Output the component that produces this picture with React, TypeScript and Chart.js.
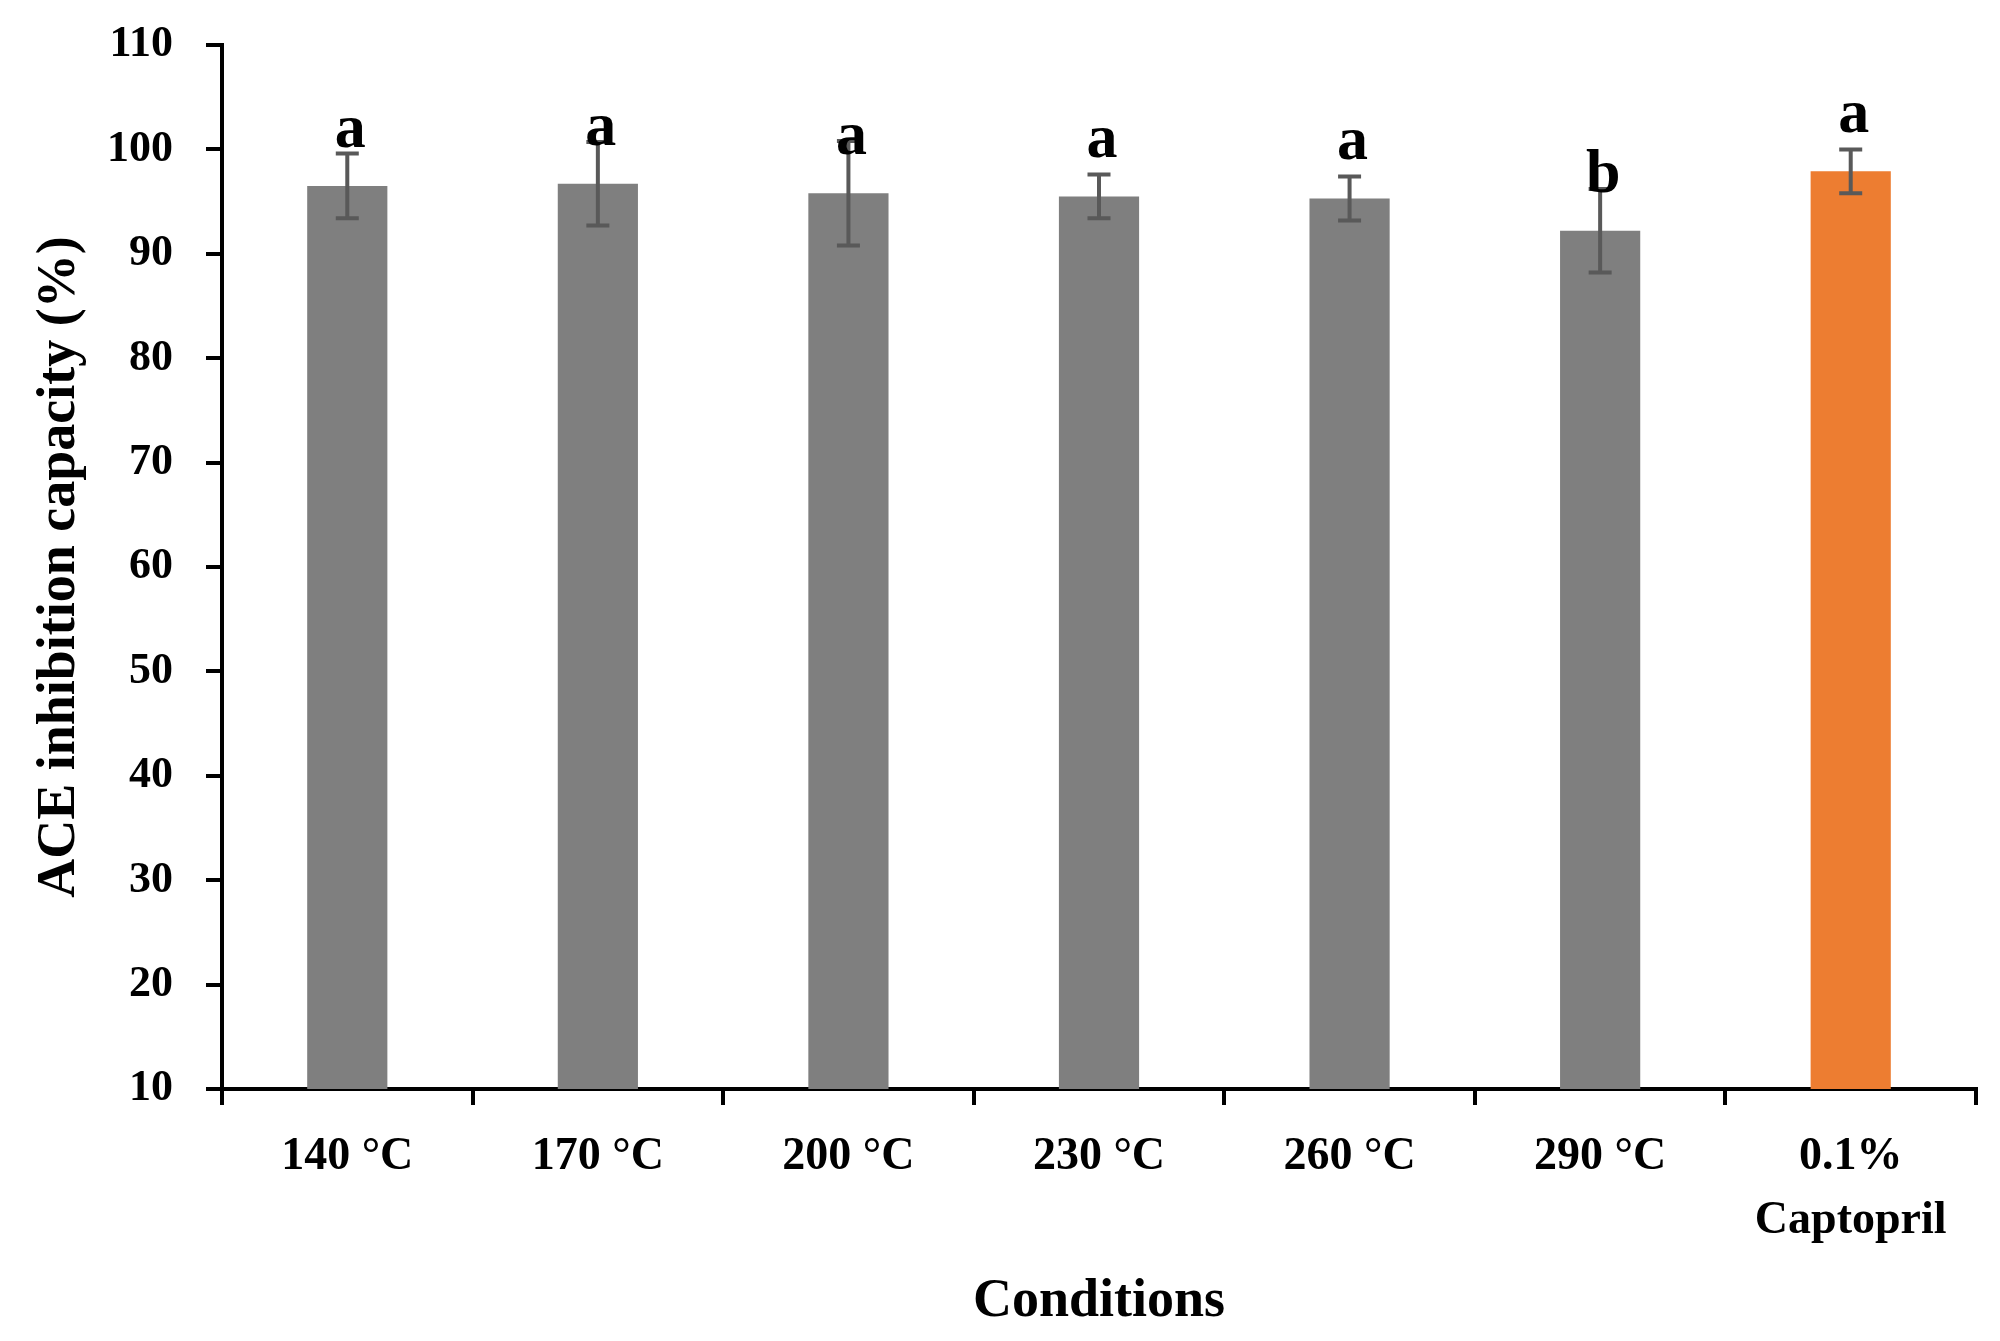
import React, { useEffect, useRef } from "react";
import { Chart, registerables } from "chart.js";

Chart.register(...registerables);

const categories: (string | string[])[] = [
  "140 °C",
  "170 °C",
  "200 °C",
  "230 °C",
  "260 °C",
  "290 °C",
  ["0.1%", "Captopril"],
];
const means = [96.5, 96.7, 95.8, 95.5, 95.3, 92.2, 97.9];
const errors = [3.1, 4.0, 5.0, 2.1, 2.1, 4.0, 2.1];
const letters = ["a", "a", "a", "a", "a", "b", "a"];
const barColors = ["#7f7f7f", "#7f7f7f", "#7f7f7f", "#7f7f7f", "#7f7f7f", "#7f7f7f", "#ed7d31"];
const yMin = 10;
const yMax = 110;
const yStep = 10;
const xTitle = "Conditions";
const yTitle = "ACE inhibition capacity (%)";

const FONT = "'Liberation Serif', 'Times New Roman', serif";

const overlayPlugin = {
  id: "overlay",
  afterDatasetsDraw(chart: any) {
    const ctx = chart.ctx;
    const meta = chart.getDatasetMeta(0);
    const yScale = chart.scales.y;
    ctx.save();
    // error bars
    ctx.strokeStyle = "#595959";
    ctx.lineWidth = 4;
    meta.data.forEach((bar: any, i: number) => {
      const x = bar.x;
      const yTop = yScale.getPixelForValue(means[i] + errors[i]);
      const yBot = yScale.getPixelForValue(means[i] - errors[i]);
      ctx.beginPath();
      ctx.moveTo(x, yTop);
      ctx.lineTo(x, yBot);
      ctx.moveTo(x - 11.5, yTop);
      ctx.lineTo(x + 11.5, yTop);
      ctx.moveTo(x - 11.5, yBot);
      ctx.lineTo(x + 11.5, yBot);
      ctx.stroke();
    });
    // letters
    ctx.fillStyle = "#000";
    ctx.font = `bold 62px ${FONT}`;
    ctx.textAlign = "center";
    ctx.textBaseline = "alphabetic";
    meta.data.forEach((bar: any, i: number) => {
      ctx.fillText(letters[i], bar.x + 3, bar.y - 39);
    });
    ctx.restore();
  },
  afterDraw(chart: any) {
    const ctx = chart.ctx;
    const area = chart.chartArea;
    ctx.save();
    ctx.fillStyle = "#000";
    ctx.font = `bold 54px ${FONT}`;
    ctx.textAlign = "center";
    ctx.textBaseline = "alphabetic";
    ctx.fillText(xTitle, (area.left + area.right) / 2, 1316);
    ctx.translate(74, (area.top + area.bottom) / 2);
    ctx.rotate(-Math.PI / 2);
    ctx.fillText(yTitle, 0, 0);
    ctx.restore();
  },
};

export default function App() {
  const canvasRef = useRef<HTMLCanvasElement | null>(null);

  useEffect(() => {
    if (!canvasRef.current) return;
    const chart = new Chart(canvasRef.current, {
      type: "bar",
      data: {
        labels: categories as any,
        datasets: [
          {
            data: means,
            backgroundColor: barColors,
            borderWidth: 0,
            barPercentage: 0.32,
            categoryPercentage: 1,
          },
        ],
      },
      options: {
        responsive: false,
        animation: false,
        devicePixelRatio: 1,
        layout: { padding: { top: 45, right: 24, left: 0, bottom: 0 } },
        plugins: {
          legend: { display: false },
          tooltip: { enabled: false },
          title: { display: false },
        },
        scales: {
          x: {
            offset: true,
            grid: {
              offset: true,
              drawOnChartArea: false,
              drawTicks: true,
              tickLength: 16,
              color: "#000",
              lineWidth: 4,
            },
            border: { display: true, color: "#000", width: 4 },
            ticks: {
              color: "#000",
              font: { family: FONT, size: 46, weight: "bold", lineHeight: 1.39 },
              padding: 20,
              maxRotation: 0,
              autoSkip: false,
            },
            afterFit(scale: any) {
              scale.height = 252;
              scale.paddingLeft = 0;
              scale.paddingRight = 0;
            },
          },
          y: {
            min: yMin,
            max: yMax,
            grid: {
              drawOnChartArea: false,
              drawTicks: true,
              tickLength: 16,
              color: "#000",
              lineWidth: 4,
            },
            border: { display: true, color: "#000", width: 4 },
            ticks: {
              stepSize: yStep,
              color: "#000",
              font: { family: FONT, size: 44, weight: "bold" },
              padding: 33,
            },
            afterFit(scale: any) {
              scale.width = 222;
              scale.paddingTop = 0;
              scale.paddingBottom = 0;
            },
          },
        },
      },
      plugins: [overlayPlugin],
    });
    return () => chart.destroy();
  }, []);

  return (
    <div style={{ position: "absolute", left: 0, top: 0, width: 2000, height: 1341, background: "#fff" }}>
      <canvas ref={canvasRef} width={2000} height={1341} />
    </div>
  );
}
